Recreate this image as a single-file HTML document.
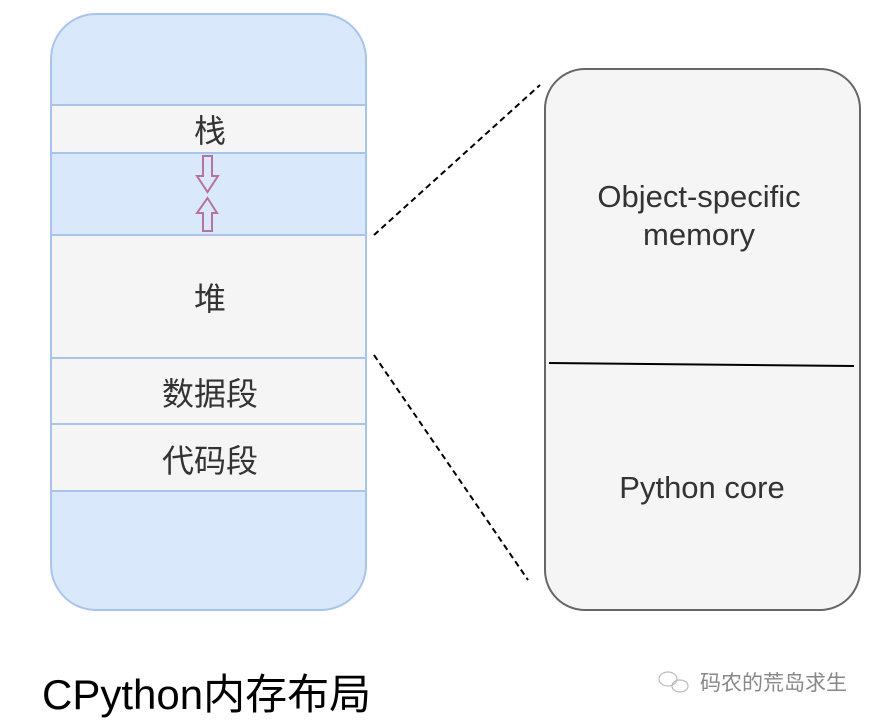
<!DOCTYPE html>
<html><head><meta charset="utf-8"><style>
body{margin:0;background:#fff;width:875px;height:720px;overflow:hidden;font-family:"Liberation Sans","Noto Sans CJK SC",sans-serif;}
</style></head><body>
<svg width="875" height="720" xmlns="http://www.w3.org/2000/svg" style="position:absolute;left:0;top:0">
<defs><clipPath id="c"><rect x="51" y="14" width="315" height="596" rx="45"/></clipPath></defs>
<rect x="51" y="14" width="315" height="596" rx="45" fill="#dae8fc"/>
<g clip-path="url(#c)">
<rect x="51" y="105" width="315" height="48" fill="#f5f5f5"/>
<rect x="51" y="235" width="315" height="256" fill="#f5f5f5"/>
</g>
<g stroke="#a9c4eb" stroke-width="2">
<line x1="51" y1="105" x2="366" y2="105"/><line x1="51" y1="153" x2="366" y2="153"/>
<line x1="51" y1="235" x2="366" y2="235"/><line x1="51" y1="358" x2="366" y2="358"/>
<line x1="51" y1="424" x2="366" y2="424"/><line x1="51" y1="491" x2="366" y2="491"/>
</g>
<rect x="51" y="14" width="315" height="596" rx="45" fill="none" stroke="#a9c4eb" stroke-width="2"/>
<g fill="none" stroke="#b5739d" stroke-width="2">
<path d="M203 156 H212 V176 H218 L207.5 192 L197 176 H203 Z"/>
<path d="M203 231 H212 V213 H217 L207.5 198 L197 213 H203 Z"/>
</g>
<g font-size="32" fill="#333" text-anchor="middle" font-family="Liberation Sans,Noto Sans CJK SC,sans-serif">
<text x="210" y="142">栈</text>
<text x="210" y="310">堆</text>
<text x="210" y="405">数据段</text>
<text x="210" y="472">代码段</text>
</g>
<rect x="545" y="69" width="315" height="541" rx="40" fill="#f5f5f5" stroke="#666" stroke-width="2"/>
<line x1="549" y1="363" x2="854" y2="366" stroke="#000" stroke-width="2"/>
<g stroke="#000" stroke-width="2" stroke-dasharray="6,4">
<line x1="374" y1="235" x2="540" y2="85"/>
<line x1="374" y1="355" x2="528" y2="580"/>
</g>
<g font-size="31" fill="#333" text-anchor="middle">
<text x="699" y="207">Object-specific</text>
<text x="699" y="245">memory</text>
<text x="702" y="498">Python core</text>
</g>
<text x="42" y="709" font-size="42" fill="#000">CPython内存布局</text>
<g fill="none" stroke="#bbb" stroke-width="1.2">
<ellipse cx="668" cy="679" rx="9" ry="7"/><ellipse cx="680" cy="686" rx="8" ry="6"/>
</g>
<text x="700" y="690" font-size="21" fill="#888">码农的荒岛求生</text>
</svg>
</body></html>
